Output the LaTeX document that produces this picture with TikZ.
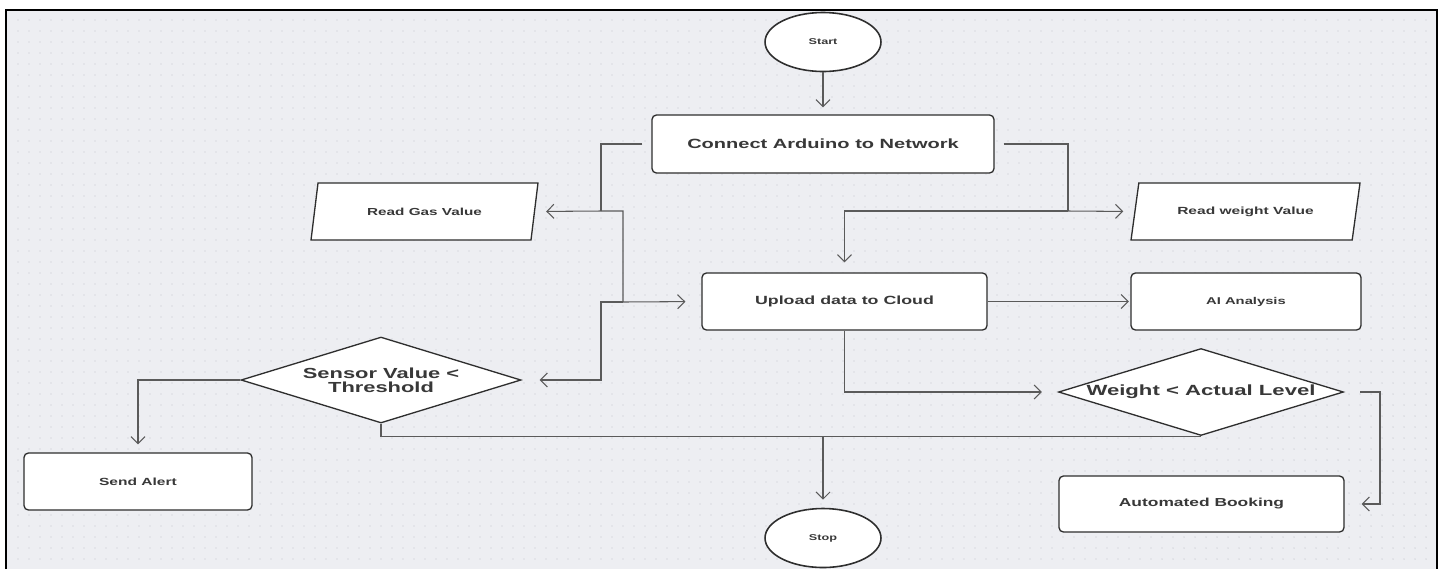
\documentclass[tikz,border=0pt]{standalone}
\usepackage{fontspec}
\setmainfont{Liberation Sans}[FakeStretch=1.5]
\usetikzlibrary{shapes.geometric,arrows.meta}
\definecolor{canvas}{HTML}{EDEEF2}
\definecolor{dotgrey}{HTML}{D9DBE0}
\definecolor{inkline}{HTML}{2E2E2E}
\definecolor{wiregrey}{HTML}{5A5A5A}
\definecolor{textgrey}{HTML}{383838}

\begin{document}
\begin{tikzpicture}[x=0.02cm,y=-0.02cm,
  procbox/.style={draw=inkline,line width=0.75pt,fill=white,rounded corners=2.5pt,text=textgrey,minimum height=1.14cm},
  iobox/.style={trapezium,trapezium left angle=70,trapezium right angle=110,trapezium stretches body,draw=inkline,line width=0.75pt,fill=white,text=textgrey,minimum height=1.14cm},
  decbox/.style={diamond,draw=inkline,line width=0.75pt,fill=white,text=textgrey,inner sep=0pt,align=center},
  termbox/.style={ellipse,draw=inkline,line width=0.9pt,fill=white,text=textgrey,minimum width=2.32cm,minimum height=1.18cm},
  wire/.style={draw=wiregrey,line width=0.6pt},
  link/.style={wire,-{Straight Barb[length=4pt,width=8pt]}},
  tipgap/.style={shorten >=#1}]
\useasboundingbox (0,0) rectangle (1439,569);
\fill[white] (0,0) rectangle (1439,569);
\fill[canvas] (6,10) rectangle (1437,569);
\foreach \gx in {18,29,...,1430}
  \foreach \gy in {20,31,...,565}
    \fill[dotgrey] (\gx,\gy) circle (0.55pt);
\draw[black,line width=1.2pt] (6,569) -- (6,10) -- (1437,10) -- (1437,569);

\node[termbox,font=\bfseries\fontsize{4.8}{6}\selectfont] (start) at (823,42) {Start};
\node[procbox,minimum width=6.84cm,minimum height=1.16cm,font=\bfseries\fontsize{7.6}{9}\selectfont] (connect) at (823,144) {Connect Arduino to Network};
\node[iobox,minimum width=4.54cm,font=\bfseries\fontsize{5.8}{7}\selectfont] (gas) at (424.5,211.5) {Read Gas Value};
\node[iobox,minimum width=4.58cm,font=\bfseries\fontsize{5.9}{7}\selectfont] (weightin) at (1245.5,211.5) {Read weight Value};
\node[procbox,minimum width=5.7cm,font=\bfseries\fontsize{6.75}{8}\selectfont] (upload) at (844.5,301.5) {Upload data to Cloud};
\node[procbox,minimum width=4.6cm,font=\bfseries\fontsize{5.6}{7}\selectfont] (ai) at (1246,301.5) {AI Analysis};
\node[decbox,aspect=3.25,minimum width=5.6cm,minimum height=1.72cm,font=\bfseries\fontsize{8.3}{7.8}\selectfont] (sensor) at (381,380) {Sensor Value <\\Threshold};
\node[decbox,aspect=3.28,minimum width=5.7cm,minimum height=1.74cm,font=\bfseries\fontsize{8.4}{9}\selectfont] (weight) at (1201,392) {Weight < Actual Level};
\node[procbox,minimum width=4.56cm,font=\bfseries\fontsize{5.9}{7}\selectfont] (alert) at (138,481.5) {Send Alert};
\node[procbox,minimum width=5.7cm,minimum height=1.12cm,font=\bfseries\fontsize{6.6}{8}\selectfont] (booking) at (1201.5,504) {Automated Booking};
\node[termbox,font=\bfseries\fontsize{4.8}{6}\selectfont] (stop) at (823,538) {Stop};

\coordinate (gasjoin) at (601,211);
\coordinate (uploadjoin) at (623,302);
\coordinate (sensorjoin) at (gasjoin |- sensor.east);
\coordinate (weightjoin) at (1068,211);
\coordinate (stopjoin) at (stop.north |- weight.south);
\coordinate (bookingjoin) at (1380,504);

\draw[link,tipgap=0.14cm] (start) -- (connect);
\draw[wire,shorten <=0.18cm] (connect.west) -| (gasjoin);
\draw[link,tipgap=0.22cm] (gasjoin) -- (gas.east);
\draw[link,tipgap=0.32cm] (gasjoin) -| (uploadjoin) -- (upload.west);
\draw[link,tipgap=0.36cm] (uploadjoin) -| (sensorjoin) -- (sensor.east);
\draw[link,tipgap=0.16cm] (sensor.west) -| (alert.north);
\draw[wire] (sensor.south) |- (weight.south);
\draw[link,tipgap=0.16cm] (stopjoin) -- (stop.north);
\draw[wire,shorten <=0.18cm] (connect.east) -| (weightjoin);
\draw[link,tipgap=0.22cm] (weightjoin) -- (weightin.west);
\draw[link,tipgap=0.2cm] (weightjoin) -| (upload.north);
\draw[link,tipgap=0.03cm] (upload) -- (ai);
\draw[link,tipgap=0.32cm] (upload.south) |- (weight.west);
\draw[link,shorten <=0.32cm,tipgap=0.34cm] (weight.east) -| (bookingjoin) -- (booking.east);
\end{tikzpicture}
\end{document}
